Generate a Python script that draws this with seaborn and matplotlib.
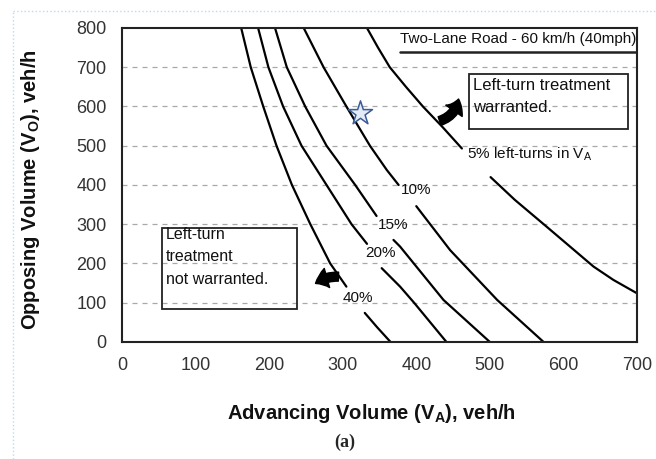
import matplotlib
matplotlib.use("Agg")
import matplotlib.pyplot as plt
import seaborn as sns
from matplotlib.patches import Rectangle
from matplotlib.lines import Line2D

# Left-turn warrant curves, two-lane road 60 km/h
# each curve is split in two parts where the % label sits in a gap

pct_40_upper_x = [162, 175, 192, 210, 231, 256, 283, 305]
pct_40_upper_y = [800, 700, 600, 500, 400, 300, 200, 141]
pct_40_lower_x = [330, 347, 365]
pct_40_lower_y = [74, 37, 0]

pct_20_upper_x = [185, 199, 219, 244, 278, 312, 333]
pct_20_upper_y = [800, 700, 600, 500, 400, 300, 250]
pct_20_lower_x = [353, 378, 397, 441]
pct_20_lower_y = [188, 141, 100, 0]

pct_15_upper_x = [208, 224, 249, 278, 317, 346]
pct_15_upper_y = [800, 700, 600, 500, 400, 321]
pct_15_lower_x = [369, 378, 437, 500]
pct_15_lower_y = [260, 243, 107, 0]

pct_10_upper_x = [247, 274, 305, 337, 360, 376]
pct_10_upper_y = [800, 700, 600, 500, 438, 400]
pct_10_lower_x = [400, 446, 510, 573]
pct_10_lower_y = [346, 234, 107, 0]

pct_5_upper_x = [333, 348, 364, 386, 409, 436, 462]
pct_5_upper_y = [800, 750, 700, 650, 600, 547, 493]
pct_5_lower_x = [501, 534, 577, 641, 668, 700]
pct_5_lower_y = [420, 362, 294, 192, 158, 124]

curve_labels = ["40%", "20%", "15%", "10%", "5% left-turns in V$_\\mathregular{A}$"]
label_x = [321, 351, 368, 400, 469]
label_y = [112, 226, 298, 387, 478]

# the star point
star_x = [324]
star_y = [584]

x_ticks = [0, 100, 200, 300, 400, 500, 600, 700]
y_ticks = [0, 100, 200, 300, 400, 500, 600, 700, 800]

sns.set_style("white")
plt.rcParams["font.family"] = ["Liberation Sans", "DejaVu Sans"]
plt.rcParams["mathtext.fontset"] = "custom"
plt.rcParams["mathtext.rm"] = "Liberation Sans"
plt.rcParams["mathtext.bf"] = "Liberation Sans:bold"
plt.rcParams["mathtext.it"] = "Liberation Sans:italic"

fig = plt.figure(figsize=(6.56, 4.59), dpi=100)
ax = fig.add_axes([0.186, 0.255, 0.785, 0.684])

# horizontal dashed grid
for yv in y_ticks[1:-1]:
    ax.axhline(yv, color="#a8a8a8", lw=0.9, ls=(0, (4, 4)), zorder=0)

segments = [
    (pct_40_upper_x, pct_40_upper_y), (pct_40_lower_x, pct_40_lower_y),
    (pct_20_upper_x, pct_20_upper_y), (pct_20_lower_x, pct_20_lower_y),
    (pct_15_upper_x, pct_15_upper_y), (pct_15_lower_x, pct_15_lower_y),
    (pct_10_upper_x, pct_10_upper_y), (pct_10_lower_x, pct_10_lower_y),
    (pct_5_upper_x, pct_5_upper_y), (pct_5_lower_x, pct_5_lower_y),
]
for sx, sy in segments:
    sns.lineplot(x=sx, y=sy, sort=False, estimator=None, color="black",
                 lw=1.6, ax=ax, legend=False)

# curve labels
for i, txt in enumerate(curve_labels):
    ha = "left" if i == len(curve_labels) - 1 else "center"
    ax.text(label_x[i], label_y[i], txt, fontsize=11, ha=ha, va="center",
            color="#111111")

sns.scatterplot(x=star_x, y=star_y, marker="*", s=330, color="#e4ebf7",
                edgecolor="#3b5a98", linewidth=1.1, ax=ax, zorder=5)

ax.set_xlim(0, 700)
ax.set_ylim(0, 800)
ax.set_xticks(x_ticks)
ax.set_yticks(y_ticks)
ax.tick_params(axis="x", direction="in", length=3, pad=11, labelsize=13,
               labelcolor="#333333", color="#555555")
ax.tick_params(axis="y", length=0, pad=11, labelsize=13, labelcolor="#333333")

for sp in ax.spines.values():
    sp.set_visible(True)
    sp.set_color("#222222")
    sp.set_linewidth(1.5)

ax.set_xlabel("Advancing Volume (V$_\\mathbf{A}$), veh/h", fontsize=14.5,
              fontweight="bold", color="#111111")
ax.set_ylabel("Opposing Volume (V$_\\mathbf{O}$), veh/h", fontsize=14.5,
              fontweight="bold", color="#111111")
ax.xaxis.set_label_coords(0.485, -0.19)
ax.yaxis.set_label_coords(-0.155, 0.484)

# road title with underline
ax.text(378, 771, "Two-Lane Road - 60 km/h (40mph)", fontsize=11, ha="left",
        va="center", color="#111111")
ax.axhline(740, xmin=0.54, xmax=1.0, color="#222222", lw=1.8)

# text boxes
ax.add_patch(Rectangle((472, 543), 216, 140, fill=False, ec="#222222", lw=1.3))
ax.text(477, 654, "Left-turn treatment", fontsize=12, ha="left", va="center",
        color="#111111")
ax.text(477, 598, "warranted.", fontsize=12, ha="left", va="center",
        color="#111111")

ax.add_patch(Rectangle((54, 84), 184, 206, fill=False, ec="#222222", lw=1.3))
for txt, ty in zip(["Left-turn", "treatment", "not warranted."], [273, 217, 158]):
    ax.text(60, ty, txt, fontsize=11.5, ha="left", va="center", color="#111111")

# the two thick arrows
arrow_style = "simple,head_length=0.7,head_width=1.1,tail_width=0.5"
ax.annotate("", xy=(458, 626), xytext=(428, 561),
            arrowprops=dict(arrowstyle=arrow_style, fc="black", ec="black",
                            mutation_scale=13, connectionstyle="arc3,rad=0.35"))
ax.annotate("", xy=(260, 145), xytext=(298, 166),
            arrowprops=dict(arrowstyle=arrow_style, fc="black", ec="black",
                            mutation_scale=13, connectionstyle="arc3,rad=0.2"))

fig.text(0.526, 0.037, "(a)", fontsize=13, fontweight="bold",
         family=["Liberation Serif", "DejaVu Serif"], ha="center", va="center")

# faint screenshot border
fig.add_artist(Line2D([0.02, 1.0], [0.976, 0.976], transform=fig.transFigure,
                      color="#b9dcf2", lw=1, ls=":"))
fig.add_artist(Line2D([0.02, 0.02], [0.0, 0.976], transform=fig.transFigure,
                      color="#b9dcf2", lw=1, ls=":"))

fig.savefig("out.png", dpi=100)
